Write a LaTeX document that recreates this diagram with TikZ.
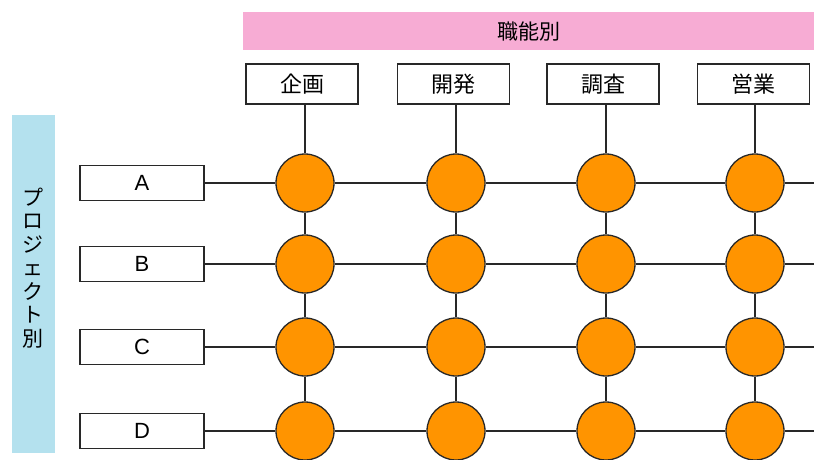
\documentclass[tikz,border=0pt]{standalone}
\usepackage{fontspec}
\setmainfont{Liberation Sans}
\newfontfamily\jp{Noto Sans CJK JP}
\definecolor{pinkbar}{RGB}{247,172,212}
\definecolor{bluebar}{RGB}{180,225,238}
\definecolor{orangedot}{RGB}{255,148,0}
\definecolor{linegray}{RGB}{40,40,40}
\begin{document}
\begin{tikzpicture}[x=1pt,y=-1pt,
  topbox/.style={draw=linegray, line width=1.2pt, fill=white, minimum width=112pt, minimum height=40pt, inner sep=0pt, font=\jp\fontsize{22}{22}\selectfont},
  leftbox/.style={draw=linegray, line width=1.2pt, fill=white, minimum width=124pt, minimum height=35pt, inner sep=0pt, font=\fontsize{22}{22}\selectfont},
  dot/.style={circle, draw=linegray, line width=1.3pt, fill=orangedot, minimum size=58pt, inner sep=0pt},
  conn/.style={draw=linegray, line width=1.2pt}]
\useasboundingbox (0,0) rectangle (814,459);
% header bars
\node[fill=pinkbar, minimum width=571pt, minimum height=38pt, inner sep=0pt, anchor=north west, font=\jp\fontsize{21}{21}\selectfont] (func) at (243,12) {職能別};
\node[fill=bluebar, minimum width=43pt, minimum height=338pt, inner sep=0pt, anchor=north west] (proj) at (12,115) {};
\node[font=\jp\fontsize{21}{23.5}\selectfont, align=center, inner sep=0pt] (projlabel) at (33,268) {プ\\ロ\\ジ\\ェ\\ク\\ト\\別};
% column boxes
\node[topbox] (k1) at (302,84) {企画};
\node[topbox] (k2) at (453.5,84) {開発};
\node[topbox] (k3) at (603,84) {調査};
\node[topbox] (k4) at (753.5,84) {営業};
% row boxes
\node[leftbox] (pA) at (142,183) {A};
\node[leftbox] (pB) at (142,264) {B};
\node[leftbox] (pC) at (142,347) {C};
\node[leftbox] (pD) at (142,431) {D};
% dots
\foreach \c/\x in {1/305,2/456,3/606,4/755}{
  \foreach \r/\y in {A/183,B/264,C/347,D/431}{
    \node[dot] (d\r\c) at (\x,\y) {};
  }
}
% right edge coordinates
\coordinate (eA) at (814,183);
\coordinate (eB) at (814,264);
\coordinate (eC) at (814,347);
\coordinate (eD) at (814,431);
% horizontal connectors
\foreach \r in {A,B,C,D}{
  \draw[conn] (p\r.east) -- (d\r1.west);
  \draw[conn] (d\r1.east) -- (d\r2.west);
  \draw[conn] (d\r2.east) -- (d\r3.west);
  \draw[conn] (d\r3.east) -- (d\r4.west);
  \draw[conn] (d\r4.east) -- (e\r);
}
% vertical connectors
\foreach \c in {1,2,3,4}{
  \draw[conn] (dA\c.north |- k\c.south) -- (dA\c.north);
  \draw[conn] (dA\c.south) -- (dB\c.north);
  \draw[conn] (dB\c.south) -- (dC\c.north);
  \draw[conn] (dC\c.south) -- (dD\c.north);
}
\end{tikzpicture}
\end{document}
